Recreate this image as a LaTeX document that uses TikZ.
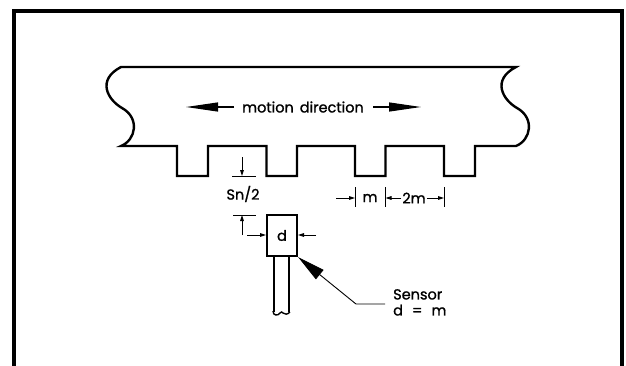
\documentclass[tikz,border=0pt]{standalone}
\usepackage{fontspec}
\setmainfont{Poppins}[FakeBold=1.2]
\usetikzlibrary{arrows.meta}
\tikzset{
  frame/.style={line width=3.6pt},
  rack/.style={line width=2.4pt, line join=miter},
  dimline/.style={line width=0.9pt},
  dimarrow/.style={line width=0.9pt, -{Triangle[length=6pt,width=3.6pt]}},
  bigarrow/.style={line width=1.2pt, -{Triangle[length=32pt,width=9pt]}},
  lbl/.style={inner sep=0pt, font=\fontsize{14.5}{17}\selectfont},
}
\begin{document}
\begin{tikzpicture}[x=1pt,y=-1pt]
\useasboundingbox (0,0) rectangle (626,365);
% frame (open at the bottom)
\draw[frame] (14,368) -- (14,11) -- (622,11) -- (622,368);
% rack
\draw[rack]
  (121,67) -- (516,67)
  .. controls (491,80) and (503,100) .. (517,108)
  .. controls (535,118) and (531,140) .. (516,146)
  -- (475,146) -- (475,176) -- (444,176) -- (444,146)
  -- (385.5,146) -- (385.5,176) -- (355,176) -- (355,146)
  -- (297,146) -- (297,176) -- (266.5,176) -- (266.5,146)
  -- (208,146) -- (208,176) -- (177,176) -- (177,146)
  -- (121,146)
  .. controls (136,140) and (140,118) .. (122,108)
  .. controls (108,100) and (96,80) .. (121,67) -- cycle;
% motion direction
\node[lbl] (mot) at (303,107) {motion\hspace{6pt}direction};
\coordinate (mlt) at (186,107);
\coordinate (mrt) at (421,107);
\draw[bigarrow] ([xshift=-8pt]mot.west) -- (mlt);
\draw[bigarrow] ([xshift=9pt]mot.east) -- (mrt);
% Sn/2
\coordinate (snA) at (242,157);
\coordinate (snB) at (242,176);
\coordinate (snC) at (242,235);
\coordinate (snD) at (242,215);
\draw[dimline] (232,176) -- (256,176);
\draw[dimline] (233,215) -- (256,215);
\draw[dimarrow] (snA) -- (snB);
\draw[dimarrow] (snC) -- (snD);
\node[lbl] (sn) at (243,194) {Sn/2};
% sensor
\node[draw, line width=2pt, minimum width=30pt, minimum height=41pt, inner sep=0pt,
      font=\fontsize{14.5}{17}\selectfont] (box) at (282,235.5) {d};
\coordinate (dl) at (247,235);
\coordinate (dr) at (316,235);
\draw[dimarrow] (dl) -- (box.west |- dl);
\draw[dimarrow] (dr) -- (box.east |- dr);
% rod
\draw[line width=1.6pt] (274,257) -- (274,312);
\draw[line width=1.6pt] (289,257) -- (289,312);
\draw[line width=1.4pt] (273,311) .. controls (273,316) and (278,316) .. (280,313)
   .. controls (282,309) and (284,318) .. (290,312);
% sensor label
\node[lbl, anchor=north west, align=left] (sens) at (393,289)
  {Sensor\\[-1pt]d\hspace{9pt}=\hspace{9pt}m};
\coordinate (bend) at (356,304);
\coordinate (lend) at (385,304);
\draw[line width=0.9pt, {Triangle[length=28pt,width=12pt]}-] (box.south east) -- (bend) -- (lend);
% m / 2m dimensions
\draw[dimline] (355,187) -- (355,207);
\draw[dimline] (385.5,187) -- (385.5,207);
\draw[dimline] (444,187) -- (444,207);
\node[lbl] (mm) at (370,198) {m};
\node[lbl] (tm) at (414,198) {2m};
\coordinate (mlft) at (336,198);
\coordinate (t3l) at (355,198);
\coordinate (t3r) at (385.5,198);
\coordinate (t4l) at (444,198);
\draw[dimarrow] (mlft) -- (t3l);
\draw[dimarrow] ([xshift=-1pt]tm.west) -- (t3r);
\draw[dimarrow] ([xshift=1pt]tm.east) -- (t4l);
\end{tikzpicture}
\end{document}
